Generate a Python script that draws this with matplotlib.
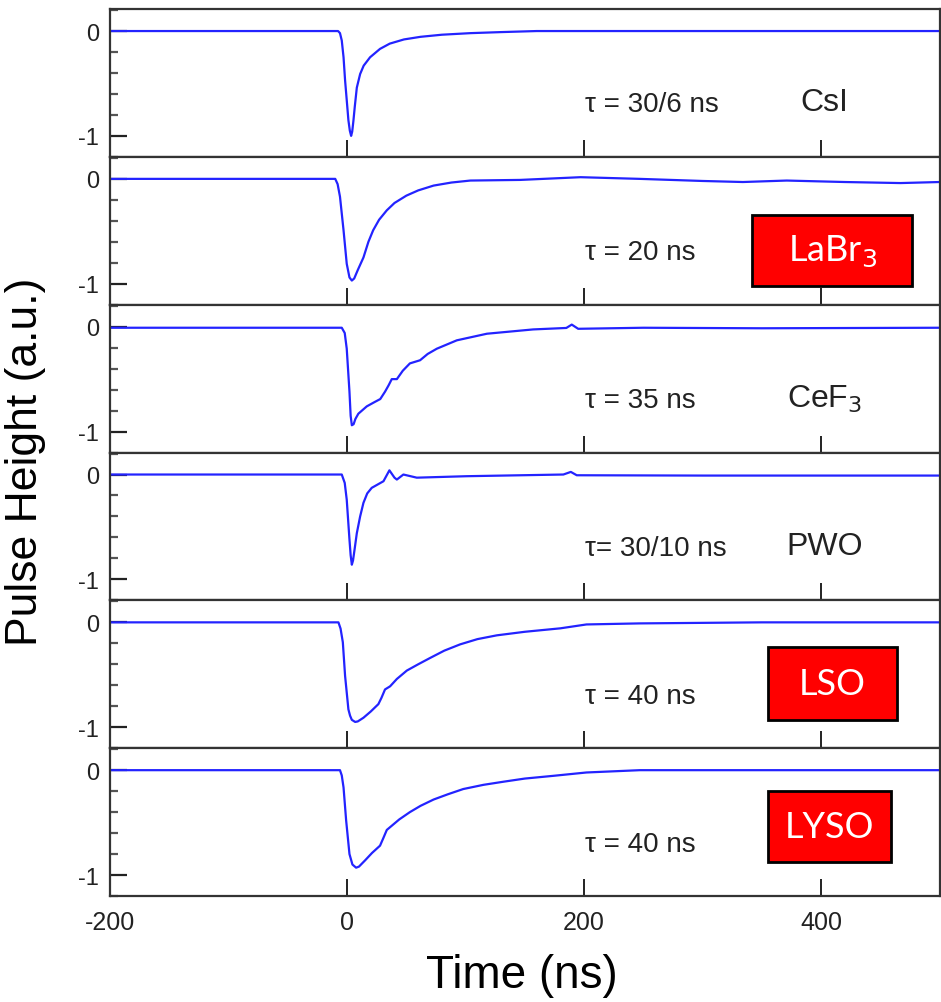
import numpy as np
import matplotlib
matplotlib.use('Agg')
import matplotlib.pyplot as plt
from matplotlib.ticker import MultipleLocator
from matplotlib.patches import Rectangle

plt.rcParams['font.family'] = ['Liberation Sans', 'DejaVu Sans']
plt.rcParams['axes.unicode_minus'] = False

# pulse shapes (time in ns, normalised height)
t_csi = [-200, -7.6, -6, -4.5, -3, -1.7, 0, 1.1, 2.3, 3.4, 4.3, 5.3, 6.5, 8.2, 11, 14, 19.4, 27.8, 36, 48, 62, 80, 104, 130, 160, 250, 350, 500]
v_csi = [0, 0, -0.02, -0.09, -0.25, -0.47, -0.70, -0.85, -0.95, -1.0, -0.96, -0.86, -0.72, -0.54, -0.41, -0.33, -0.25, -0.17, -0.12, -0.08, -0.055, -0.035, -0.02, -0.01, 0, 0, 0, 0]

t_labr = [-200, -10, -8, -6, -3, -0.3, 2, 4, 6, 9, 13.8, 18, 22, 27, 33.5, 40, 50, 60, 73, 88, 104, 146, 197, 247, 300, 334, 371, 420, 467, 500]
v_labr = [0, 0, -0.05, -0.17, -0.49, -0.81, -0.94, -0.97, -0.95, -0.87, -0.75, -0.60, -0.49, -0.39, -0.30, -0.23, -0.16, -0.11, -0.064, -0.035, -0.016, -0.01, 0.016, 0, -0.02, -0.03, -0.016, -0.03, -0.04, -0.03]

t_cef = [-200, -4.5, -2, -0.3, 2, 3, 4, 5.5, 7, 9.5, 16.6, 23, 28, 32, 35, 37.7, 42, 47, 53, 61.6, 68, 75.7, 92.6, 118, 157, 185, 189.6, 195, 250, 350, 500]
v_cef = [-0.01, -0.01, -0.06, -0.21, -0.62, -0.85, -0.94, -0.93, -0.88, -0.83, -0.76, -0.72, -0.69, -0.62, -0.56, -0.50, -0.50, -0.42, -0.35, -0.32, -0.26, -0.21, -0.13, -0.067, -0.026, -0.012, 0.02, -0.02, -0.01, -0.015, -0.01]

t_pwo = [-200, -4.5, -2, -0.3, 2, 3, 4, 5, 6.5, 8.2, 11, 13.8, 17, 20.8, 30.7, 35.7, 40, 42, 47.5, 58.8, 101, 182.5, 188.8, 193.8, 300, 500]
v_pwo = [0, 0, -0.08, -0.24, -0.62, -0.77, -0.86, -0.82, -0.70, -0.56, -0.40, -0.27, -0.18, -0.127, -0.064, 0.04, -0.03, -0.048, 0, -0.03, -0.016, 0, 0.025, -0.007, -0.01, -0.01]

t_lso = [-200, -7.3, -5.5, -3.6, -1.7, 1.1, 2.5, 4, 6.8, 9, 13.8, 20, 26.4, 29, 32, 36.3, 42, 50.4, 60, 70, 82, 95.4, 110, 126.3, 150, 180, 202, 247, 350, 500]
v_lso = [0, 0, -0.06, -0.19, -0.51, -0.83, -0.89, -0.93, -0.95, -0.945, -0.91, -0.85, -0.78, -0.72, -0.64, -0.61, -0.54, -0.46, -0.40, -0.34, -0.27, -0.21, -0.16, -0.124, -0.09, -0.057, -0.02, -0.01, 0, 0]

t_lyso = [-200, -6, -4.5, -3, -0.8, 2, 4.5, 7.6, 10, 15.2, 21, 27.8, 30.5, 33.5, 37.7, 44, 53, 62, 73, 85, 98, 115, 132, 150, 174, 202, 247, 350, 500]
v_lyso = [0, 0, -0.05, -0.165, -0.48, -0.80, -0.90, -0.93, -0.92, -0.86, -0.79, -0.72, -0.65, -0.57, -0.53, -0.47, -0.40, -0.34, -0.28, -0.23, -0.18, -0.14, -0.11, -0.08, -0.054, -0.022, 0, 0, 0]

traces = [(t_csi, v_csi), (t_labr, v_labr), (t_cef, v_cef),
          (t_pwo, v_pwo), (t_lso, v_lso), (t_lyso, v_lyso)]
tau_labels = ['τ = 30/6 ns', 'τ = 20 ns', 'τ = 35 ns', 'τ= 30/10 ns', 'τ = 40 ns', 'τ = 40 ns']
names = ['CsI', 'LaBr$_3$', 'CeF$_3$', 'PWO', 'LSO', 'LYSO']
# red label boxes: (panel, t_left, t_right, y_bottom, y_top)
boxes = {1: (342, 477, -1.02, -0.343), 4: (355, 464, -0.933, -0.238), 5: (355, 459, -0.876, -0.20)}

fig, axes = plt.subplots(6, 1, figsize=(9.41, 10.03), dpi=100, sharex=True)
fig.subplots_adjust(left=0.117, right=0.9985, bottom=0.1057, top=0.990, hspace=0)

for i, ax in enumerate(axes):
    t, v = traces[i]
    ax.plot(t, v, color='#2323ff', lw=1.6)
    ax.set_xlim(-200, 500)
    ax.set_ylim(-1.2, 0.21)
    ax.set_yticks([0, -1])
    ax.set_yticklabels(['0', '-1'])
    ax.yaxis.set_minor_locator(MultipleLocator(0.2))
    ax.set_xticks([-200, 0, 200, 400])
    ax.tick_params(axis='y', which='major', direction='in', length=12, width=1.6,
                   labelsize=17, pad=8, colors='#222222')
    ax.tick_params(axis='y', which='minor', direction='in', length=6, width=1.6, colors='#555555')
    ax.tick_params(axis='x', which='major', direction='in', length=12, width=1.4,
                   labelsize=18, pad=10, colors='#222222')
    for s in ax.spines.values():
        s.set_linewidth(1.6)
        s.set_color('#333333')

    ax.text(201, -0.70, tau_labels[i], fontsize=20, color='#222222', va='center', ha='left')
    if i in boxes:
        x0, x1, y0, y1 = boxes[i]
        ax.add_patch(Rectangle((x0, y0), x1 - x0, y1 - y0, facecolor='#ff0000',
                               edgecolor='black', lw=2, zorder=5))
        ax.text((x0 + x1) / 2, (y0 + y1) / 2, names[i], fontsize=26, color='white',
                va='center', ha='center', family=['Lato', 'DejaVu Sans'], zorder=6)
    else:
        ax.text(403, -0.68, names[i], fontsize=23, color='#222222', va='center', ha='center')

for lab in axes[-1].get_xticklabels():
    lab.set_family(['Liberation Sans Narrow', 'Liberation Sans'])

fig.text(0.027, 0.540, 'Pulse Height (a.u.)', rotation=90, fontsize=32, va='center', ha='center')
fig.text(0.555, 0.027, 'Time (ns)', fontsize=33, va='center', ha='center')

fig.savefig('out.png', dpi=100)
